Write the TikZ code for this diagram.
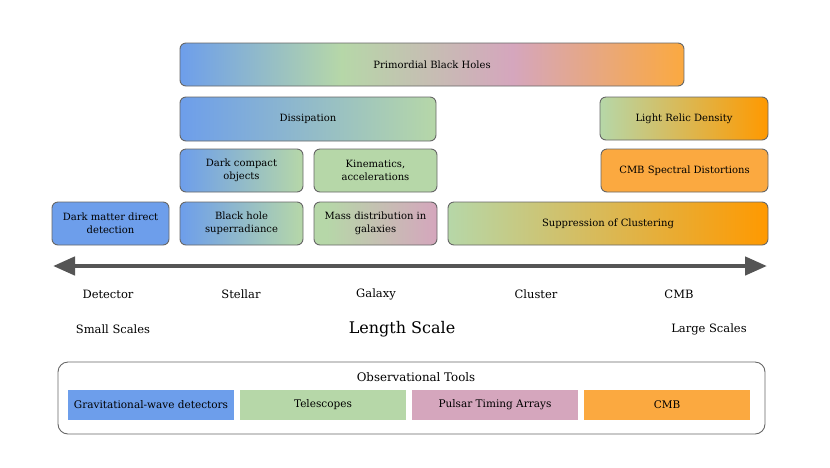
\documentclass[tikz,border=0pt]{standalone}
\usepackage{fontspec}
\setmainfont{DejaVu Serif}
\usetikzlibrary{arrows.meta}

\definecolor{gwblue}{HTML}{6D9EEB}
\definecolor{telgreen}{HTML}{B6D7A8}
\definecolor{ptapink}{HTML}{D5A6BD}
\definecolor{cmborange}{HTML}{FBA940}
\definecolor{deeporange}{HTML}{FF9900}
\definecolor{edgegray}{HTML}{666666}
\definecolor{axisgray}{HTML}{555555}

\pgfdeclarehorizontalshading{pbhshade}{100bp}{color(0bp)=(gwblue); color(25bp)=(gwblue); color(41bp)=(telgreen); color(58bp)=(ptapink); color(75bp)=(cmborange); color(100bp)=(cmborange)}
\pgfdeclarehorizontalshading{bluegreen}{100bp}{color(0bp)=(gwblue); color(25bp)=(gwblue); color(75bp)=(telgreen); color(100bp)=(telgreen)}
\pgfdeclarehorizontalshading{greenpink}{100bp}{color(0bp)=(telgreen); color(30bp)=(telgreen); color(75bp)=(ptapink); color(100bp)=(ptapink)}
\pgfdeclarehorizontalshading{greenorange}{100bp}{color(0bp)=(telgreen); color(25bp)=(telgreen); color(75bp)=(deeporange); color(100bp)=(deeporange)}

\begin{document}
\begin{tikzpicture}[x=1pt,y=-1pt,
  scalebox/.style={draw=edgegray,line width=0.9pt,rounded corners=6pt,inner sep=2pt,align=center,
    font=\fontsize{10}{13.3}\selectfont},
  toolbox/.style={fill=#1,minimum width=166,minimum height=30,inner sep=0pt,
    font=\fontsize{10.5}{13}\selectfont},
  scalelabel/.style={font=\fontsize{11.5}{14}\selectfont}]
  \useasboundingbox (0,0) rectangle (830,467);

  % Probes, ordered by the scales they reach
  \node[scalebox,shade,shading=pbhshade,minimum width=504,minimum height=43] (pbh) at (432,64.5) {Primordial Black Holes};
  \node[scalebox,shade,shading=bluegreen,minimum width=256,minimum height=44] (diss) at (308,119) {Dissipation};
  \node[scalebox,shade,shading=greenorange,minimum width=168,minimum height=43] (relic) at (684,118.5) {Light Relic Density};

  \node[scalebox,shade,shading=bluegreen,minimum width=123,minimum height=43] (dco) at (241.5,170.5) {Dark compact\\objects};
  \node[scalebox,fill=telgreen,minimum width=123,minimum height=43] (kin) at (375.5,170.5) {Kinematics,\\accelerations};
  \node[scalebox,fill=cmborange,minimum width=167,minimum height=43] (spec) at (684.5,170.5) {CMB Spectral Distortions};

  \node[scalebox,fill=gwblue,minimum width=117,minimum height=43] (ddet) at (110.5,223.5) {Dark matter direct\\detection};
  \node[scalebox,shade,shading=bluegreen,minimum width=123,minimum height=43] (bhsr) at (241.5,223.5) {Black hole\\superradiance};
  \node[scalebox,shade,shading=greenpink,minimum width=123,minimum height=43] (mass) at (375.5,223.5) {Mass distribution in\\galaxies};
  \node[scalebox,shade,shading=greenorange,minimum width=320,minimum height=43] (supp) at (608,223.5) {Suppression of Clustering};

  % Length-scale axis
  \coordinate (small) at (53,266);
  \coordinate (large) at (767,266);
  \draw[axisgray,line width=4.5pt,{Triangle[length=22pt,width=18pt]}-{Triangle[length=22pt,width=18pt]}] (small) -- (large);

  \node[scalelabel] (detector) at (108,294) {Detector};
  \node[scalelabel] (stellar) at (241,294) {Stellar};
  \node[scalelabel] (galaxy) at (376,294) {Galaxy};
  \node[scalelabel] (cluster) at (536,294) {Cluster};
  \node[scalelabel] (cmb) at (679,294) {CMB};

  \node[scalelabel] (smallsc) at (113,329) {Small Scales};
  \node[font=\fontsize{16}{19}\selectfont] (lenscale) at (402,329) {Length Scale};
  \node[scalelabel] (largesc) at (709,329) {Large Scales};

  % Observational tools
  \node[draw=edgegray,line width=0.9pt,rounded corners=10pt,minimum width=707,minimum height=72] (tools) at (411.5,398) {};
  \node[font=\fontsize{11.8}{14}\selectfont] (toolstitle) at (416,377) {Observational Tools};
  \node[toolbox=gwblue] (gw) at (151,404.5) {Gravitational-wave detectors};
  \node[toolbox=telgreen] (tel) at (323,404.5) {Telescopes};
  \node[toolbox=ptapink] (pta) at (495,404.5) {Pulsar Timing Arrays};
  \node[toolbox=cmborange] (cmbtool) at (667,404.5) {CMB};
\end{tikzpicture}
\end{document}
